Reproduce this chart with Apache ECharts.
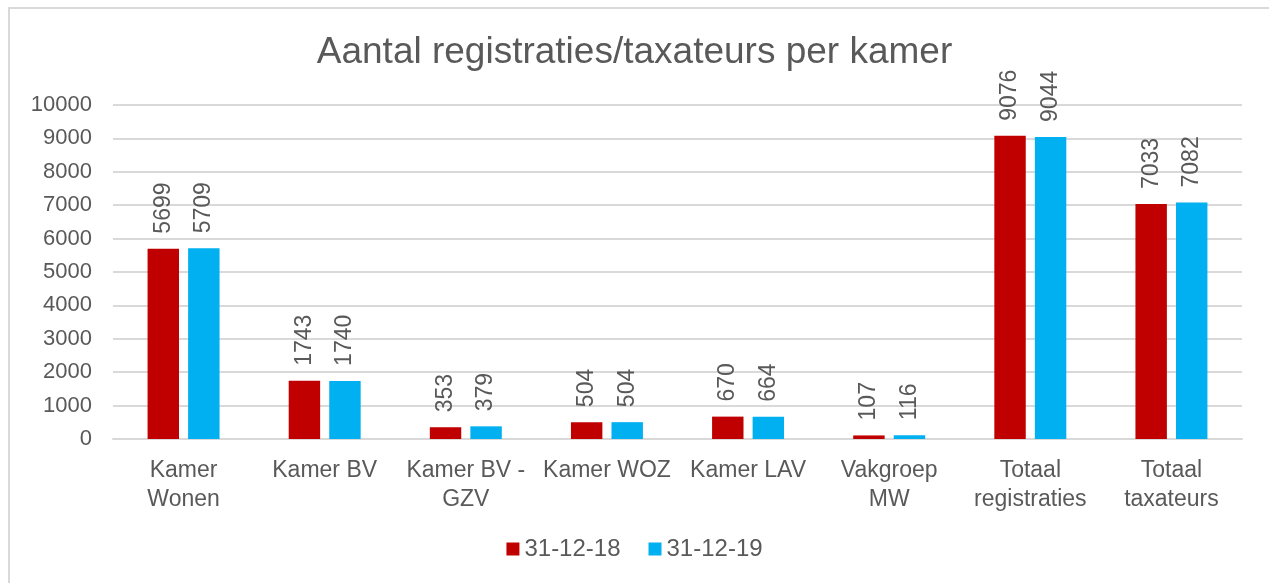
<!DOCTYPE html>
<html>
<head>
<meta charset="utf-8">
<script src="https://cdn.jsdelivr.net/npm/echarts@6/dist/echarts.min.js"></script>
<style>
    html, body { margin: 0; padding: 0; background: #fff; }
    .frame {
        position: absolute; left: 8px; top: 7px; width: 1300px; height: 620px;
        border-left: 2px solid #d9d9d9; border-top: 2px solid #d9d9d9;
    }
    #chart { position: absolute; left: 0; top: 0; width: 1269px; height: 583px; }
</style>
</head>
<body>
<div class="frame"></div>
<div id="chart"></div>
<script>
    // categorieën en waarden
    const categories = ['Kamer\nWonen', 'Kamer BV', 'Kamer BV -\nGZV', 'Kamer WOZ', 'Kamer LAV', 'Vakgroep\nMW', 'Totaal\nregistraties', 'Totaal\ntaxateurs']
    const seriesNames = ['31-12-18', '31-12-19']
    const values2018 = [5699, 1743, 353, 504, 670, 107, 9076, 7033]
    const values2019 = [5709, 1740, 379, 504, 664, 116, 9044, 7082]
    const yTicks = [0, 1000, 2000, 3000, 4000, 5000, 6000, 7000, 8000, 9000, 10000]

    const font = 'Liberation Sans, Arial, sans-serif'
    const textColor = '#595959'

    let chart = echarts.init(document.getElementById('chart'))

    function barSeries(name, data, color) {
        return {
            name: name,
            type: 'bar',
            data: data,
            barGap: '29%',
            barCategoryGap: '49%',
            itemStyle: { color: color },
            label: {
                show: true,
                position: 'top',
                rotate: 90,
                align: 'left',
                verticalAlign: 'middle',
                distance: 15,
                color: textColor,
                fontSize: 23,
                fontFamily: font
            }
        }
    }

    let option = {
        animation: false,
        title: {
            text: 'Aantal registraties/taxateurs per kamer',
            left: 'center',
            top: 29,
            textStyle: { color: textColor, fontSize: 37, fontWeight: 'normal', fontFamily: font }
        },
        legend: {
            bottom: 17,
            left: 'center',
            itemWidth: 13,
            itemHeight: 13,
            itemGap: 28,
            icon: 'rect',
            textStyle: { color: textColor, fontSize: 24, fontFamily: font },
            data: seriesNames
        },
        grid: { left: 113, right: 27, top: 105, bottom: 144, containLabel: false },
        xAxis: {
            type: 'category',
            data: categories,
            axisTick: { show: false },
            axisLine: { lineStyle: { color: '#d9d9d9', width: 2 } },
            axisLabel: {
                color: textColor, fontSize: 23, fontFamily: font,
                lineHeight: 29, margin: 17, interval: 0
            }
        },
        yAxis: {
            type: 'value',
            min: yTicks[0],
            max: yTicks[yTicks.length - 1],
            interval: 1000,
            axisLine: { show: false },
            axisTick: { show: false },
            axisLabel: {
                color: textColor, fontSize: 22, fontFamily: font, margin: 21,
                formatter: function (v) { return String(v) }
            },
            splitLine: { lineStyle: { color: '#d9d9d9', width: 2 } }
        },
        series: [
            barSeries(seriesNames[0], values2018, '#C00000'),
            barSeries(seriesNames[1], values2019, '#00B0F0')
        ]
    }

    chart.setOption(option)
</script>
</body>
</html>
